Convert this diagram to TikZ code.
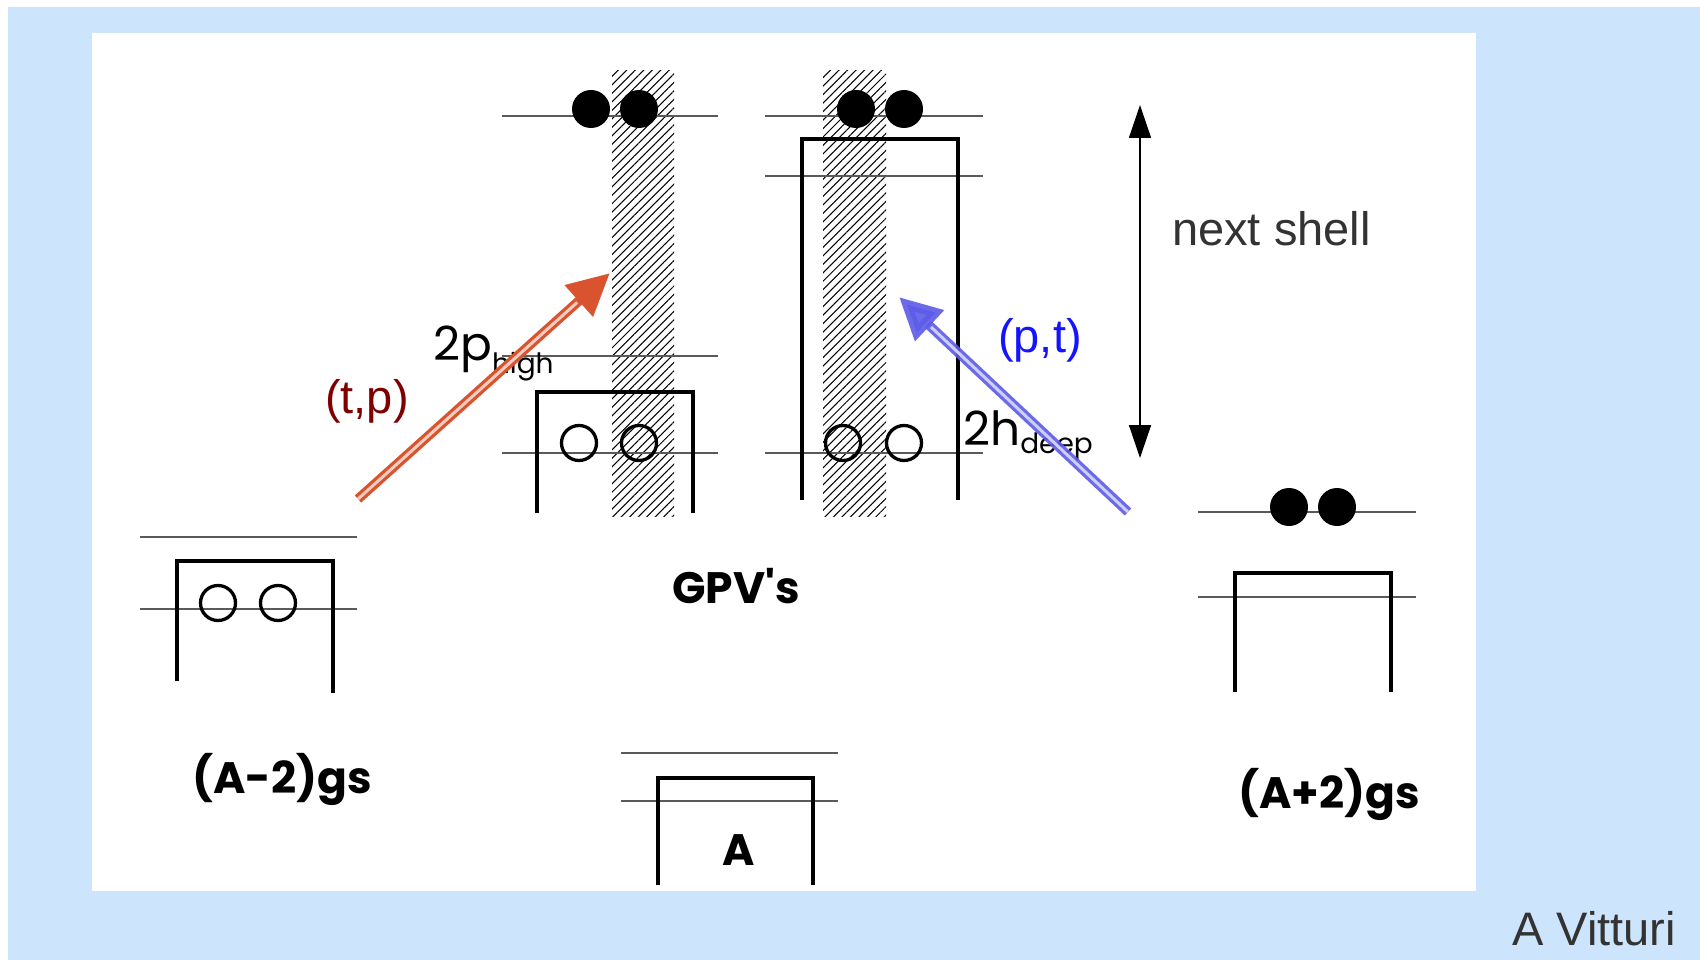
\documentclass[tikz,border=0pt]{standalone}
\usepackage{fontspec}
\setmainfont{Liberation Sans}
\newfontfamily\geofont{Poppins}
\usetikzlibrary{arrows.meta,patterns.meta}
\definecolor{bgblue}{RGB}{204,228,252}
\definecolor{lvlgray}{RGB}{90,90,90}
\definecolor{tpred}{RGB}{128,0,0}
\definecolor{ptblue}{RGB}{20,20,255}
\definecolor{arrred}{RGB}{217,84,46}
\definecolor{arrblue}{RGB}{92,92,232}
\definecolor{txtgray}{RGB}{51,51,51}
\begin{document}
\begin{tikzpicture}[x=1pt,y=-1pt,
  level/.style={draw=lvlgray, line width=2.2pt},
  shellbox/.style={draw=black, line width=4pt, line join=miter},
  part/.style={circle, fill=black, minimum size=38pt, inner sep=0pt},
  hole/.style={circle, draw=black, line width=3.3pt, minimum size=35pt, inner sep=0pt},
  stripe/.style={pattern={Lines[angle=45,distance=6pt,line width=1.05pt]}, pattern color=black},
  lbl/.style={anchor=base west, inner sep=0pt},
  comic/.style={lbl, font=\geofont\bfseries\fontsize{44}{46}\selectfont},
  sans/.style={lbl, font=\fontsize{47}{50}\selectfont},
  fatarrow/.style={line width=9.5pt, -{Triangle[length=42pt,width=40pt]}},
  arrcore/.style={line width=3pt, shorten >=44pt}
]
\useasboundingbox (0,0) rectangle (1700,960);
\fill[white] (0,0) rectangle (1700,960);
\fill[bgblue] (8,7) rectangle (1700,960);
\fill[white] (92,33) rectangle (1476,891);

% hatched stripes
\fill[stripe] (612,71) rectangle (674,516);
\fill[stripe] (823,71) rectangle (886,516);

% ---- left GPV ----
\draw[level] (502,116) -- (718,116);
\draw[level] (502,356) -- (718,356);
\draw[level] (502,453) -- (718,453);
\draw[shellbox] (537,513) -- (537,392) -- (693,392) -- (693,513);
\node[part] (p1) at (591,109) {};
\node[part] (p2) at (639,109) {};
\node[hole] (h1) at (579,443) {};
\node[hole] (h2) at (639,443) {};

% ---- right GPV ----
\draw[level] (765,116) -- (983,116);
\draw[level] (765,176) -- (983,176);
\draw[level] (765,453) -- (983,453);
\draw[shellbox] (802,500) -- (802,139) -- (958,139) -- (958,500);
\node[part] (p3) at (856,109) {};
\node[part] (p4) at (904,109) {};
\node[hole] (h3) at (843,443) {};
\node[hole] (h4) at (904,443) {};

% ---- (A-2) ----
\draw[level] (140,537) -- (357,537);
\draw[level] (140,609) -- (357,609);
\draw[shellbox] (177,681) -- (177,561) -- (333,561) -- (333,693);
\node[hole] (h5) at (218,603) {};
\node[hole] (h6) at (278,603) {};

% ---- (A+2) ----
\draw[level] (1198,512) -- (1416,512);
\draw[level] (1198,597) -- (1416,597);
\draw[shellbox] (1235,692) -- (1235,573) -- (1391,573) -- (1391,692);
\node[part] (p5) at (1289,507) {};
\node[part] (p6) at (1337,507) {};

% ---- A ----
\draw[level] (621,753) -- (838,753);
\draw[level] (621,801) -- (838,801);
\draw[shellbox] (658,885) -- (658,778) -- (813,778) -- (813,885);

% labels
\node[comic] (gpv) at (672,603) {GPV's};
\node[comic] (am2) at (192,793) {(A-2)gs};
\node[comic] (ap2) at (1238,808) {(A+2)gs};
\node[comic] (aa) at (722,865) {A};

\node[lbl, font=\geofont\fontsize{47}{50}\selectfont] (phigh) at (433,360) {2p\raisebox{-13pt}{\fontsize{28}{30}\selectfont high}};
\node[lbl, font=\geofont\fontsize{47}{50}\selectfont] (hdeep) at (963,445) {2h\raisebox{-8pt}{\fontsize{28}{30}\selectfont deep}};

\node[sans, text=tpred] (tp) at (325,413) {(t,p)};
\node[sans, text=ptblue] (pt) at (998,352) {(p,t)};
\node[sans, text=txtgray] (ns) at (1172,245) {next shell};
\node[sans, text=txtgray] (av) at (1512,945) {A Vitturi};

% next shell double arrow
\coordinate (nsTop) at (1140,105);
\coordinate (nsBot) at (1140,458);
\draw[line width=1.5pt, {Triangle[length=33pt,width=22pt]}-{Triangle[length=33pt,width=22pt]}] (nsTop) -- (nsBot);

% transfer arrows
\coordinate (tpS) at (358,499);
\coordinate (tpE) at (610,273);
\coordinate (ptS) at (1128,512);
\coordinate (ptE) at (899,297);
\draw[fatarrow, draw=arrred, fill=arrred] (tpS) -- (tpE);
\draw[arrcore, draw=white!70!arrred] (tpS) -- (tpE);
\draw[fatarrow, draw=arrblue, fill=arrblue, opacity=0.9] (ptS) -- (ptE);
\draw[arrcore, draw=white!70!arrblue] (ptS) -- (ptE);
\end{tikzpicture}
\end{document}
